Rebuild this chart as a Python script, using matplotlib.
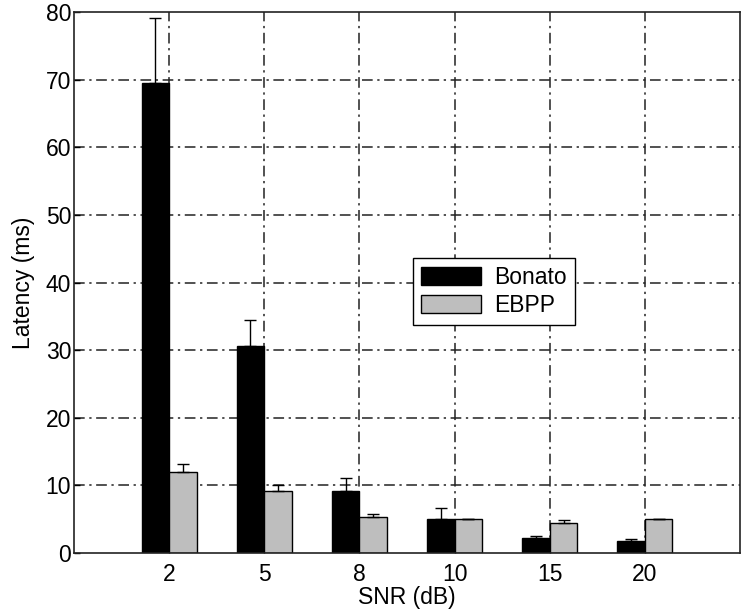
import matplotlib
matplotlib.use("Agg")
import matplotlib.pyplot as plt
import numpy as np

plt.rcParams['font.family'] = ['Liberation Sans', 'DejaVu Sans']

categories = ['2', '5', '8', '10', '15', '20']
bonato = [69.5, 30.6, 9.1, 5.1, 2.2, 1.8]
bonato_err = [9.6, 3.9, 2.0, 1.5, 0.35, 0.25]
ebpp = [12.0, 9.1, 5.3, 5.0, 4.5, 5.0]
ebpp_err = [1.1, 1.0, 0.4, 0.05, 0.45, 0.05]
series_names = ['Bonato', 'EBPP']
y_ticks = [0, 10, 20, 30, 40, 50, 60, 70, 80]

fig = plt.figure(figsize=(7.45, 6.13), dpi=100)
ax = fig.add_axes([74/745, 60/613, 666/745, 541/613])

x = np.arange(1, len(categories) + 1)
w = 0.29
err_kw = dict(ecolor='black', elinewidth=1.0, capsize=4, capthick=1.0)
ax.bar(x - w/2, bonato, w, color='black', edgecolor='black', linewidth=1.0,
       yerr=[np.zeros(len(bonato)), bonato_err], error_kw=err_kw, label=series_names[0], zorder=3)
ax.bar(x + w/2, ebpp, w, color='#bebebe', edgecolor='black', linewidth=1.0,
       yerr=[np.zeros(len(ebpp)), ebpp_err], error_kw=err_kw, label=series_names[1], zorder=3)

ax.set_xlim(0, 7)
ax.set_ylim(0, 80)
ax.set_xticks(x)
ax.set_xticklabels(categories)
ax.set_yticks(y_ticks)
ax.tick_params(direction='in', length=4, labelsize=16.5, width=1)
ax.tick_params(axis='y', pad=2)
ax.tick_params(axis='x', pad=7)
ax.grid(True, color='#222222', linestyle=(0, (7, 3, 1.5, 3)), linewidth=1.1, zorder=1)
ax.set_axisbelow(True)
for gl, t in zip(ax.get_ygridlines(), y_ticks):
    if t in (0, 80):
        gl.set_visible(False)
for s in ax.spines.values():
    s.set_linewidth(1.2)
    s.set_color('#222222')
    s.set_zorder(4)

ax.set_xlabel('SNR (dB)', fontsize=16.5, labelpad=0.5)
ax.set_ylabel('Latency (ms)', fontsize=16.5, labelpad=8)

leg = ax.legend(loc='upper left', bbox_to_anchor=(413/745, 1 - 258/613),
                bbox_transform=fig.transFigure, fontsize=16.5, frameon=True,
                fancybox=False, framealpha=1, edgecolor='black',
                handlelength=2.6, handleheight=0.85, handletextpad=0.6,
                borderpad=0.35, labelspacing=0.2, borderaxespad=0)
leg.get_frame().set_linewidth(1.0)

fig.savefig('out.png', dpi=100)
